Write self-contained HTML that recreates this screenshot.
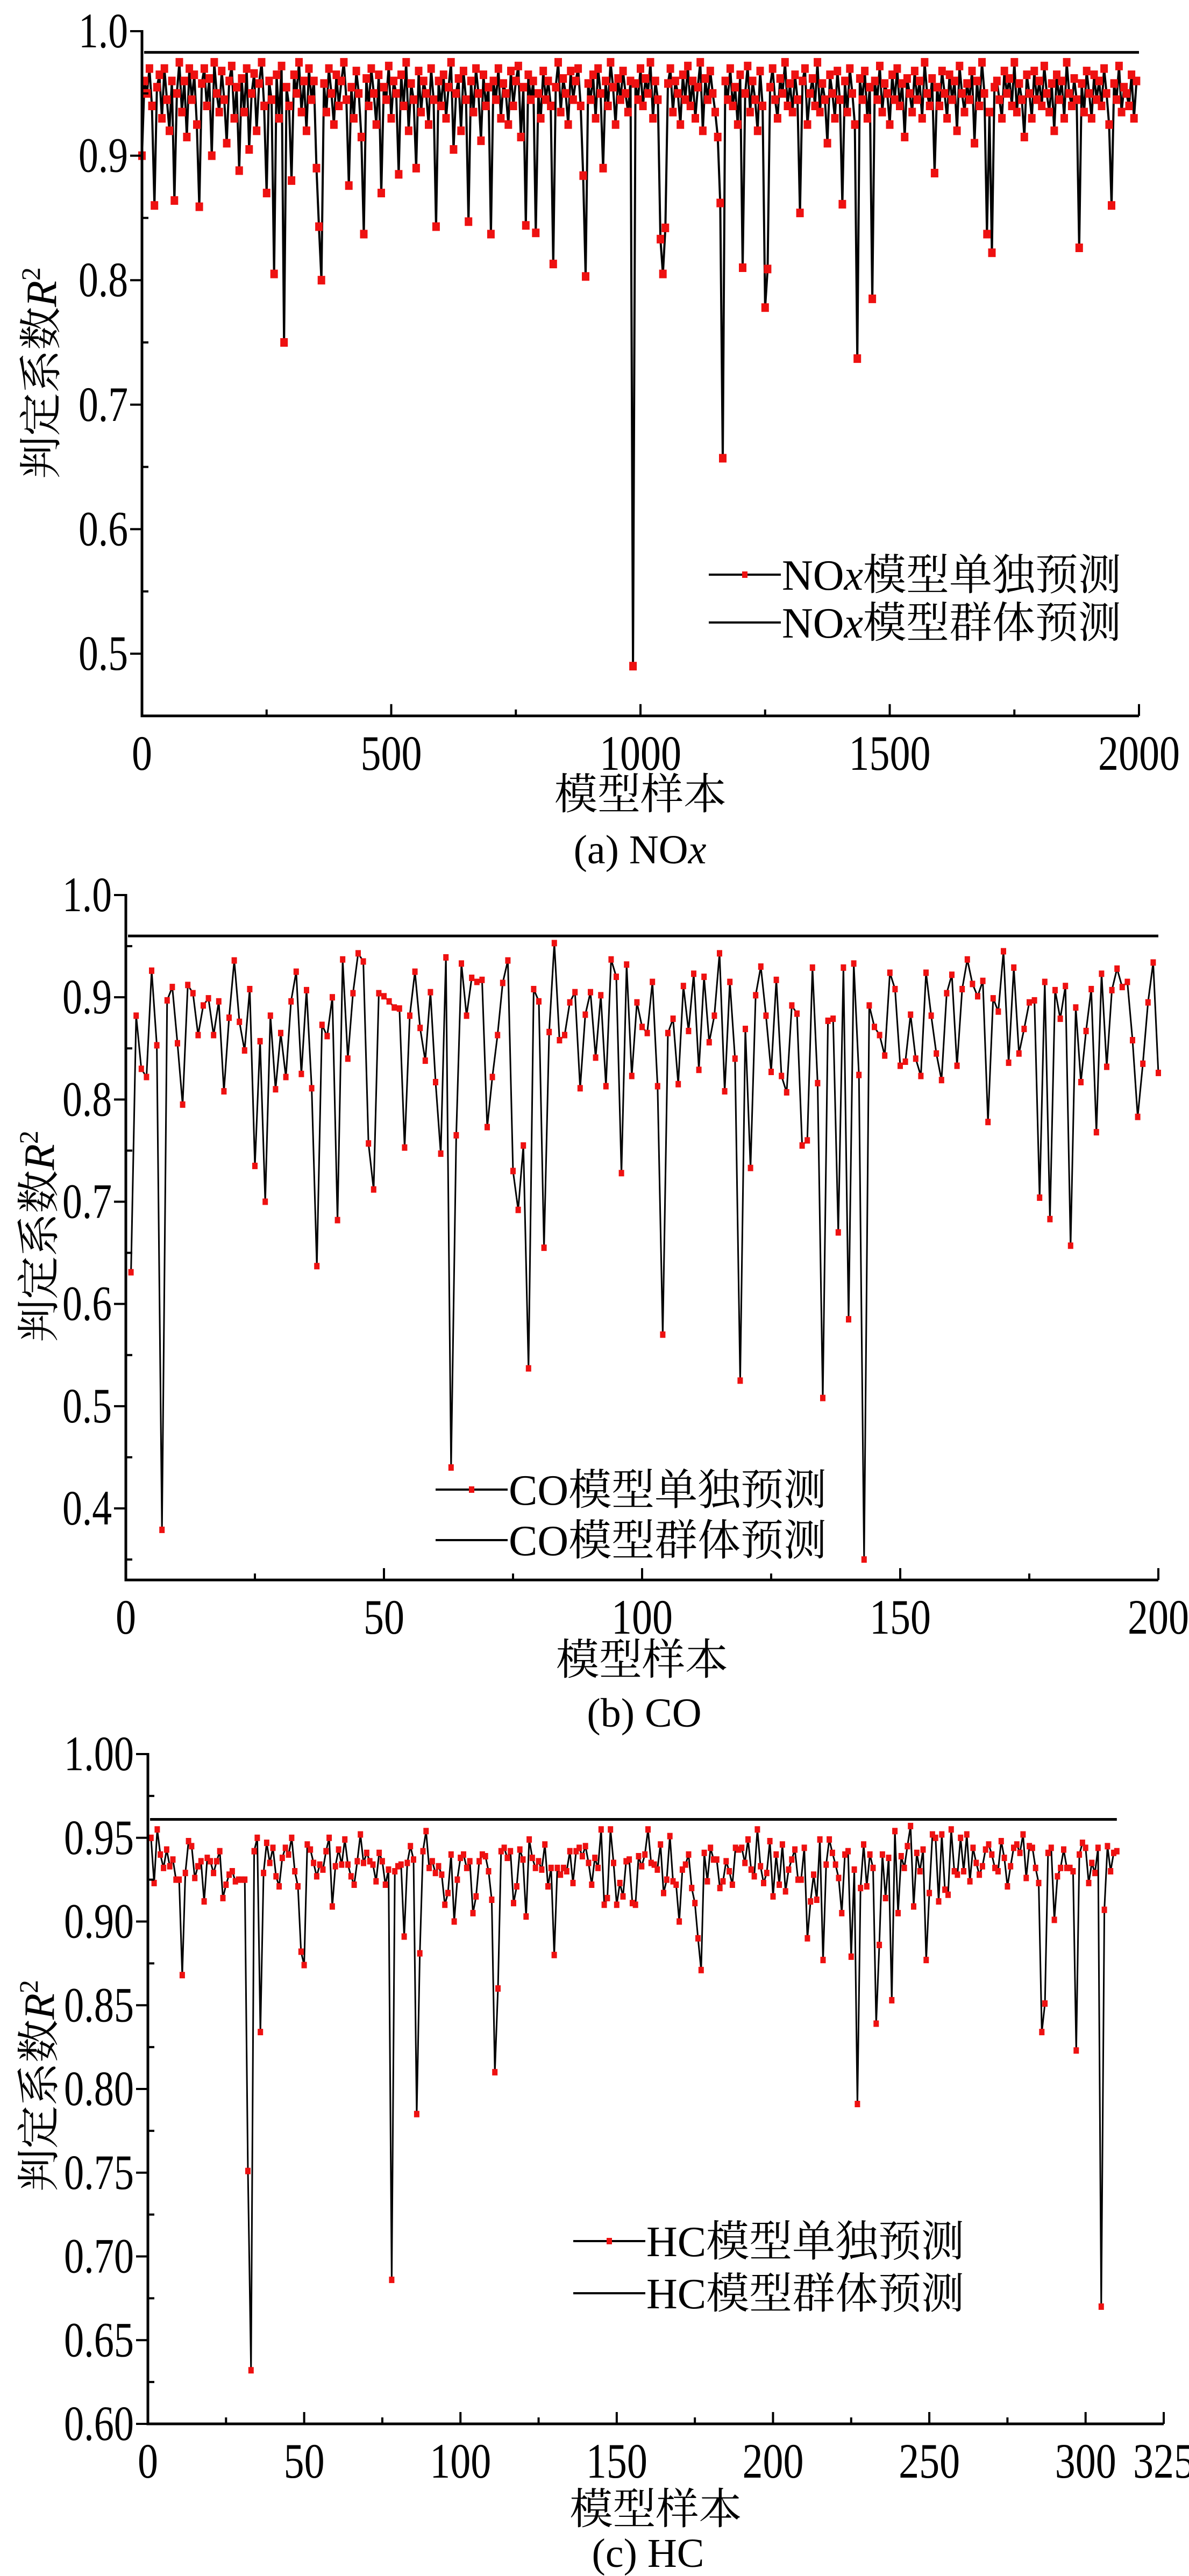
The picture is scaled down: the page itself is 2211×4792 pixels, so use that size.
<!DOCTYPE html>
<html><head><meta charset="utf-8">
<style>
html,body{margin:0;padding:0;background:#fff;}
svg{display:block;}
text{font-family:"Liberation Serif","Noto Serif CJK SC","Noto Sans CJK SC",serif;fill:#000;}
</style></head>
<body>
<svg id="fig" width="2211" height="4792" viewBox="0 0 2211 4792" xmlns="http://www.w3.org/2000/svg"></svg>
<script>
// ---- Panel (a) NOx: individual R2 (sampled every 5 models) ----
const noxStep = 5;
const noxIndividual = [
.900,.960,.950,.970,.940,.860,.955,.965,.930,.970,.945,.920,.960,.864,.950,.975,.935,.960,.915,.970,
.945,.965,.925,.859,.958,.970,.940,.962,.900,.975,.950,.935,.968,.945,.910,.960,.972,.930,.955,.888,
.962,.935,.970,.905,.950,.966,.920,.958,.975,.940,.870,.960,.945,.805,.965,.930,.972,.750,.955,.940,
.880,.965,.950,.975,.935,.960,.920,.970,.945,.960,.890,.843,.800,.958,.935,.970,.950,.925,.965,.940,
.960,.975,.945,.876,.955,.930,.968,.950,.915,.837,.962,.940,.970,.950,.925,.965,.870,.955,.945,.972,
.930,.960,.950,.885,.965,.940,.975,.920,.958,.945,.890,.968,.935,.960,.950,.925,.970,.945,.843,.960,
.940,.965,.930,.955,.975,.905,.950,.962,.920,.968,.945,.847,.960,.935,.970,.950,.912,.965,.940,.955,
.837,.960,.945,.970,.930,.958,.950,.925,.968,.940,.960,.972,.915,.955,.844,.965,.945,.960,.838,.950,
.930,.968,.945,.960,.940,.813,.955,.975,.935,.962,.950,.925,.968,.945,.960,.970,.940,.884,.803,.958,
.945,.965,.930,.970,.950,.890,.960,.940,.975,.955,.925,.962,.945,.968,.950,.935,.960,.490,.958,.945,
.970,.940,.962,.950,.975,.930,.960,.945,.833,.805,.842,.958,.970,.935,.960,.950,.925,.965,.945,.972,
.940,.960,.930,.955,.975,.920,.962,.945,.968,.950,.935,.915,.862,.657,.960,.945,.970,.940,.955,.925,
.965,.810,.950,.972,.935,.960,.945,.920,.968,.940,.778,.809,.955,.970,.945,.930,.962,.950,.975,.940,
.958,.935,.965,.945,.854,.960,.970,.925,.950,.962,.940,.975,.935,.958,.945,.910,.965,.950,.930,.968,
.945,.861,.960,.935,.970,.950,.925,.737,.962,.945,.968,.930,.955,.785,.960,.945,.972,.935,.958,.950,
.925,.965,.945,.970,.940,.958,.915,.962,.950,.935,.968,.945,.960,.930,.975,.950,.940,.962,.886,.955,
.940,.968,.950,.930,.965,.945,.960,.920,.972,.950,.935,.958,.945,.968,.910,.960,.940,.975,.950,.837,
.935,.822,.955,.960,.945,.930,.968,.950,.962,.940,.975,.935,.958,.945,.915,.965,.950,.930,.968,.945,
.960,.940,.972,.950,.935,.958,.920,.965,.945,.960,.930,.975,.950,.940,.962,.945,.826,.958,.935,.968,
.950,.930,.965,.945,.960,.940,.970,.950,.925,.860,.958,.945,.972,.935,.955,.950,.940,.965,.930,.960];
const noxEnsemble = 0.983;
const noxXTicks = [0,500,1000,1500,2000];
const noxYTicks = [0.5,0.6,0.7,0.8,0.9,1.0];
const noxYLabels = ["0.5","0.6","0.7","0.8","0.9","1.0"];

// ---- Panel (b) CO ----
const coIndividual = [
.631,.882,.830,.822,.926,.853,.379,.897,.910,.855,.795,.912,.904,.863,.892,.899,.863,.896,.808,.880,
.936,.876,.848,.908,.735,.857,.700,.882,.810,.865,.822,.896,.925,.825,.907,.811,.637,.873,.862,.900,
.682,.937,.840,.904,.943,.935,.757,.712,.904,.901,.896,.890,.889,.753,.882,.925,.870,.838,.905,.817,
.747,.939,.440,.765,.933,.882,.919,.915,.917,.773,.822,.863,.914,.936,.730,.692,.755,.537,.908,.896,
.655,.866,.953,.858,.863,.895,.905,.811,.883,.905,.841,.902,.813,.937,.920,.728,.932,.823,.895,.871,
.865,.915,.813,.570,.865,.879,.815,.911,.867,.923,.829,.920,.856,.882,.943,.808,.915,.840,.525,.869,
.733,.902,.930,.882,.827,.917,.823,.807,.892,.884,.755,.760,.929,.816,.508,.877,.879,.670,.929,.585,
.933,.824,.350,.892,.871,.863,.843,.924,.908,.833,.837,.883,.840,.823,.924,.882,.845,.819,.904,.922,
.833,.908,.937,.913,.901,.916,.778,.899,.886,.945,.836,.929,.845,.869,.895,.897,.704,.915,.683,.907,
.879,.911,.657,.890,.817,.867,.908,.768,.923,.832,.907,.928,.910,.915,.858,.783,.835,.895,.934,.826];
const coEnsemble = 0.960;
const coXTicks = [0,50,100,150,200];
const coYTicks = [0.4,0.5,0.6,0.7,0.8,0.9,1.0];
const coYLabels = ["0.4","0.5","0.6","0.7","0.8","0.9","1.0"];

// ---- Panel (c) HC ----
const hcIndividual = [
.950,.923,.955,.940,.932,.943,.933,.937,.925,.925,
.868,.929,.948,.945,.926,.933,.936,.912,.938,.936,
.929,.936,.942,.914,.922,.928,.930,.924,.925,.925,
.925,.751,.632,.942,.950,.834,.929,.947,.935,.944,
.927,.921,.938,.944,.940,.950,.930,.921,.882,.874,
.946,.943,.935,.927,.934,.931,.942,.950,.909,.933,
.943,.934,.949,.934,.927,.922,.936,.952,.935,.941,
.936,.934,.924,.941,.936,.922,.931,.686,.930,.933,
.934,.891,.935,.945,.937,.785,.881,.942,.954,.932,
.936,.929,.933,.928,.910,.917,.940,.900,.925,.938,
.940,.932,.936,.905,.915,.936,.940,.939,.930,.913,
.810,.860,.942,.944,.938,.942,.911,.921,.943,.937,
.903,.949,.938,.932,.936,.931,.946,.921,.932,.880,
.932,.928,.932,.930,.942,.923,.942,.944,.939,.945,
.935,.922,.938,.932,.955,.910,.914,.955,.935,.910,
.923,.915,.936,.937,.911,.910,.939,.933,.940,.955,
.935,.934,.931,.946,.917,.925,.951,.924,.922,.900,
.931,.934,.940,.920,.911,.890,.871,.941,.924,.944,
.937,.937,.920,.924,.936,.930,.922,.944,.943,.944,
.935,.949,.931,.927,.955,.933,.923,.929,.948,.915,
.940,.922,.946,.918,.931,.937,.943,.925,.925,.944,
.890,.912,.928,.913,.949,.877,.934,.949,.941,.934,
.926,.905,.940,.942,.879,.931,.791,.920,.946,.921,
.940,.932,.839,.886,.940,.914,.938,.853,.954,.905,
.939,.932,.945,.957,.909,.941,.930,.943,.877,.917,
.952,.950,.912,.952,.919,.916,.955,.930,.928,.950,
.930,.952,.924,.944,.935,.928,.933,.943,.946,.940,
.932,.930,.948,.938,.921,.933,.944,.946,.941,.952,
.926,.945,.944,.932,.923,.834,.851,.941,.944,.901,
.927,.932,.943,.932,.932,.930,.823,.940,.947,.944,
.923,.935,.929,.944,.670,.907,.945,.930,.941,.942];
const hcEnsemble = 0.961;
const hcXTicks = [0,50,100,150,200,250,300,325];
const hcYTicks = [0.60,0.65,0.70,0.75,0.80,0.85,0.90,0.95,1.00];
const hcYLabels = ["0.60","0.65","0.70","0.75","0.80","0.85","0.90","0.95","1.00"];

const NS = "http://www.w3.org/2000/svg";
const svg = document.getElementById('fig');
function mk(tag, attrs, parent){
  const e = document.createElementNS(NS, tag);
  for (const k in attrs) e.setAttribute(k, attrs[k]);
  (parent||svg).appendChild(e);
  return e;
}

function drawPanel(p){
  const g = mk('g', {});
  
  
  const xs = v => p.left + (v - p.xmin) / (p.xmax - p.xmin) * (p.right - p.left);
  const ys = v => p.yTopPx + (p.yTopVal - v) / (p.yTopVal - p.yBotVal) * (p.yBotPx - p.yTopPx);
  const bottomPx = ys(p.ymin);

  const ens = mk('line', {x1: xs(p.xmin)+4, x2: xs(p.xEnd), y1: ys(p.ensemble), y2: ys(p.ensemble), stroke:'#000', 'stroke-width':5}, g);
  
  

  let d = '';
  p.values.forEach((v,i)=>{ d += (i?'L':'M') + xs(p.xOf(i)).toFixed(1) + ',' + ys(v).toFixed(1); });
  const ln = mk('path', {d:d, fill:'none', stroke:'#000', 'stroke-width':p.lw, 'stroke-linejoin':'round'}, g);
  
  
  const mg = mk('g', {fill:'#ee1111'}, g);
  
  
  p.values.forEach((v,i)=>{
    const r = mk('rect', {x:(xs(p.xOf(i))-p.mw/2).toFixed(1), y:(ys(v)-p.mh/2).toFixed(1), width:p.mw, height:p.mh}, mg);
    
    
  });

  const ax = mk('path', {d:`M${p.left},${ys(p.yTopVal)-2} L${p.left},${bottomPx} L${p.right},${bottomPx}`, fill:'none', stroke:'#000', 'stroke-width':5}, g);
  
  

  p.yTicks.forEach((t,i)=>{
    const y = ys(t);
    const tk = mk('line', {x1:p.left-22, x2:p.left, y1:y, y2:y, stroke:'#000', 'stroke-width':4}, g);
    
    
    if (i < p.yTicks.length-1) {
      const ym = ys((t + p.yTicks[i+1])/2);
      const mt = mk('line', {x1:p.left, x2:p.left+12, y1:ym, y2:ym, stroke:'#000', 'stroke-width':4}, g);
      
      
    }
    const s = p.yLabels[i];
    const tx = mk('text', {x:p.left-26, y:y+30, 'font-size':92, 'text-anchor':'end', textLength:(s.length-1)*38+16, lengthAdjust:'spacingAndGlyphs'}, g);
    tx.textContent = s;
    
    
  });
  const yb = ys(p.yTicks[0] - (p.yTicks[1]-p.yTicks[0])/2);
  if (yb < bottomPx - 5) {
    const mt = mk('line', {x1:p.left, x2:p.left+12, y1:yb, y2:yb, stroke:'#000', 'stroke-width':4}, g);
    
    
  }

  p.xTicks.forEach((t,i)=>{
    const x = xs(t);
    const tk = mk('line', {x1:x, x2:x, y1:bottomPx, y2:bottomPx-22, stroke:'#000', 'stroke-width':4}, g);
    
    
    if (i < p.xTicks.length-1 && p.xTicks[i+1]-t === p.xTicks[1]-p.xTicks[0]) {
      const xm = xs((t + p.xTicks[i+1])/2);
      const mt = mk('line', {x1:xm, x2:xm, y1:bottomPx, y2:bottomPx-12, stroke:'#000', 'stroke-width':4}, g);
      
      
    }
    const s = String(t);
    const tx = mk('text', {x:x, y:bottomPx+100, 'font-size':92, 'text-anchor':'middle', textLength:s.length*38, lengthAdjust:'spacingAndGlyphs'}, g);
    tx.textContent = s;
    
    
  });

  const xt = mk('text', {x:(p.left+p.right)/2, y:p.xTitleY, 'font-size':80, 'text-anchor':'middle'}, g);
  xt.textContent = '模型样本';
  
  
  const yt = mk('text', {x:0, y:0, 'font-size':80, 'text-anchor':'middle', transform:`translate(${p.yTitleX},${p.yTitleY}) rotate(-90)`}, g);
  yt.innerHTML = '判定系数<tspan font-style="italic">R</tspan><tspan font-size="50" dy="-30">2</tspan>';
  
  

  const cp = mk('text', {x:p.capX, y:p.capY, 'font-size':76, 'text-anchor':'middle'}, g);
  cp.innerHTML = p.caption;
  
  

  const lg = mk('g', {}, g);
  
  
  [[p.legY1, p.leg1, true],[p.legY2, p.leg2, false]].forEach(([ly, label, mark], j)=>{
    const e = mk('g', {}, lg);
    
    
    mk('line', {x1:p.legX, x2:p.legX+134, y1:ly, y2:ly, stroke:'#000', 'stroke-width':4}, e);
    if (mark) mk('rect', {x:p.legX+62, y:ly-6, width:10, height:12, fill:'#ee1111'}, e);
    const t = mk('text', {x:p.legX+136, y:ly+28, 'font-size':80}, e);
    t.innerHTML = label;
  });
}

drawPanel({id:'nox', values:noxIndividual, xOf:i=>i*noxStep, xmin:0, xmax:2000, xEnd:2000,
  left:264, right:2118, yTopVal:1.0, yBotVal:0.5, yTopPx:58, yBotPx:1216, ymin:0.45,
  lw:4, mw:14, mh:16,
  ensemble:noxEnsemble, xTicks:noxXTicks, yTicks:noxYTicks, yLabels:noxYLabels,
  xTitleY:1505, yTitleX:104, yTitleY:694, capX:1190, capY:1606,
  caption:'(a) NO<tspan font-style="italic">x</tspan>',
  legX:1318, legY1:1069, legY2:1158,
  leg1:'NO<tspan font-style="italic">x</tspan>模型单独预测', leg2:'NO<tspan font-style="italic">x</tspan>模型群体预测'});

drawPanel({id:'co', values:coIndividual, xOf:i=>i+1, xmin:0, xmax:200, xEnd:200,
  left:234, right:2154, yTopVal:1.0, yBotVal:0.4, yTopPx:1665, yBotPx:2806, ymin:0.33,
  lw:3, mw:10, mh:12,
  ensemble:coEnsemble, xTicks:coXTicks, yTicks:coYTicks, yLabels:coYLabels,
  xTitleY:3115, yTitleX:100, yTitleY:2300, capX:1198, capY:3212,
  caption:'(b) CO',
  legX:810, legY1:2771, legY2:2865,
  leg1:'CO模型单独预测', leg2:'CO模型群体预测'});

drawPanel({id:'hc', values:hcIndividual, xOf:i=>i+1, xmin:0, xmax:325, xEnd:310,
  left:275, right:2164, yTopVal:1.0, yBotVal:0.6, yTopPx:3263, yBotPx:4509, ymin:0.6,
  lw:3, mw:10, mh:12,
  ensemble:hcEnsemble, xTicks:hcXTicks, yTicks:hcYTicks, yLabels:hcYLabels,
  xTitleY:4695, yTitleX:100, yTitleY:3880, capX:1205, capY:4775,
  caption:'(c) HC',
  legX:1066, legY1:4169, legY2:4266,
  leg1:'HC模型单独预测', leg2:'HC模型群体预测'});
</script>
</body></html>
